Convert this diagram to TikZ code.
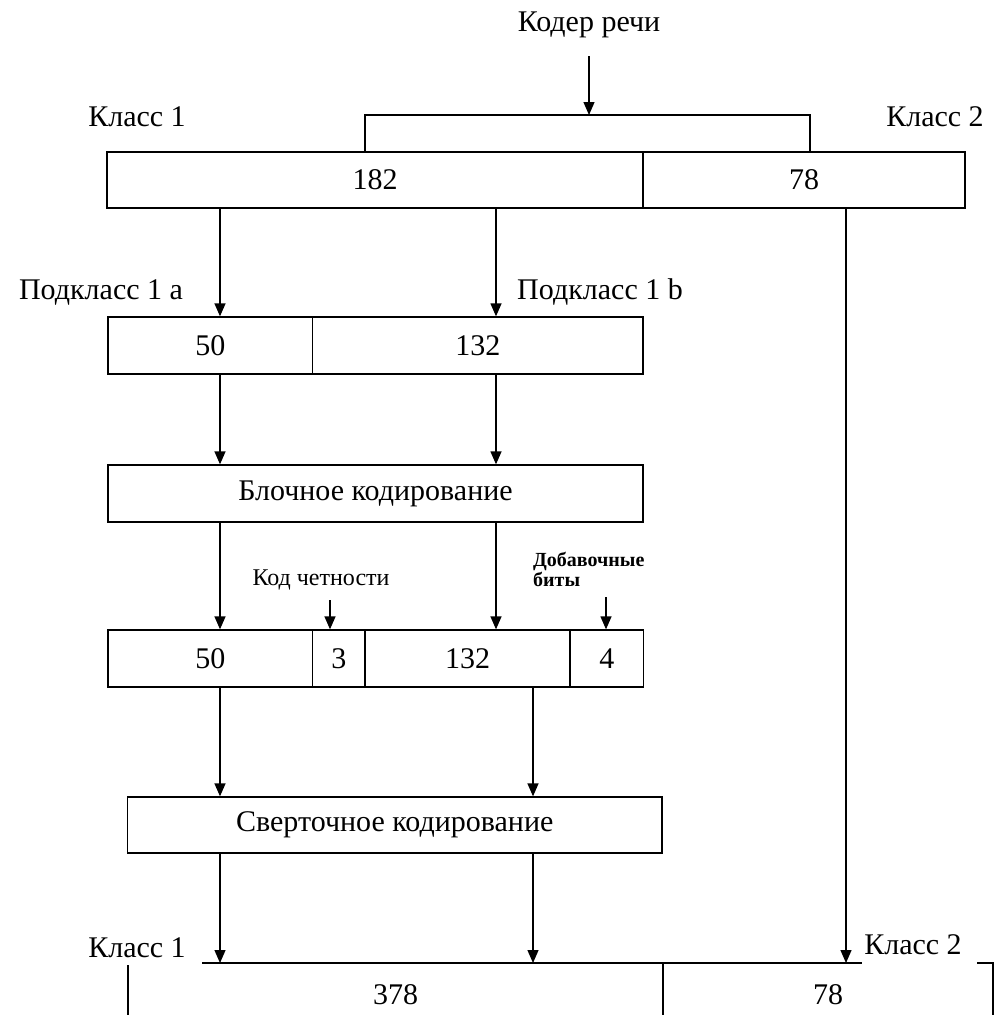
\documentclass[tikz,border=0pt]{standalone}
\usepackage{fontspec}
\setmainfont{Liberation Serif}
\usetikzlibrary{arrows.meta}
\begin{document}
\begin{tikzpicture}[x=1pt,y=-1pt,
  cell/.style={draw, line width=1.3pt, inner sep=0pt, font=\fontsize{30}{32}\selectfont},
  ghost/.style={inner sep=0pt, font=\fontsize{30}{32}\selectfont},
  lbl/.style={inner sep=0pt, font=\fontsize{30}{32}\selectfont},
  small/.style={inner sep=0pt, font=\fontsize{24}{24}\selectfont},
  smallb/.style={inner sep=0pt, align=left, font=\fontsize{20}{20}\selectfont\bfseries},
  ln/.style={line width=1.3pt},
  arr/.style={line width=1.3pt, -{Triangle[length=13pt,width=11pt]}}]
\useasboundingbox (0,0) rectangle (995,1015);
% labels
\node[lbl] (coder) at (589,25) {Кодер речи};
\node[lbl] (k1top) at (137,117) {Класс 1};
\node[lbl] (k2top) at (935,117) {Класс 2};
\node[lbl] (pa) at (101,292) {Подкласс 1 a};
\node[lbl] (pb) at (600,292) {Подкласс 1 b};
\node[small] (kod) at (321,580) {Код четности};
\node[smallb, anchor=west] (dob) at (533,569) {Добавочные\\биты};
\node[lbl] (k1bot) at (137,948) {Класс 1};
\node[lbl] (k2bot) at (913,945) {Класс 2};
% top box
\node[cell, minimum width=536pt, minimum height=56pt] (c182) at (375,180) {182};
\node[cell, minimum width=322pt, minimum height=56pt] (c78) at (804,180) {78};
% box 2
\node[cell, minimum width=204.5pt, minimum height=57pt] (s50) at (210.25,345.5) {50};
\node[cell, minimum width=330.5pt, minimum height=57pt] (s132) at (477.75,345.5) {132};
% block coding
\node[cell, minimum width=535pt, minimum height=57pt] (blk) at (375.5,493.5) {Блочное кодирование};
% box 4
\node[cell, minimum width=204.5pt, minimum height=57pt] (t50) at (210.25,658.5) {50};
\node[cell, minimum width=52.5pt, minimum height=57pt] (t3) at (338.75,658.5) {3};
\node[cell, minimum width=205pt, minimum height=57pt] (t132) at (467.5,658.5) {132};
\node[cell, minimum width=73.5pt, minimum height=57pt] (t4) at (606.75,658.5) {4};
% convolutional coding
\node[cell, minimum width=534.5pt, minimum height=56pt] (conv) at (394.75,825) {Сверточное кодирование};
% bottom box (partly open)
\node[ghost, minimum width=535pt, minimum height=64pt] (b378) at (395.5,995) {378};
\node[ghost, minimum width=330pt, minimum height=64pt] (b78) at (828,995) {78};
% columns / points
\coordinate (split) at (589,115);
\coordinate (brL) at (365,115);
\coordinate (brR) at (810,115);
\coordinate (colA) at (220,0);
\coordinate (colB) at (496,0);
\coordinate (colC) at (533,0);
\coordinate (colR) at (846,0);
\coordinate (pP) at (330,600);
\coordinate (pD) at (606,597);
\coordinate (bl1) at (202,963);
\coordinate (bl2) at (862,963);
\coordinate (br1) at (977,963);
\coordinate (brc) at (993,963);
\coordinate (brb) at (993,1015);
\coordinate (lv1) at (128,965);
\coordinate (lv2) at (128,1015);
\coordinate (dv1) at (663,963);
\coordinate (dv2) at (663,1015);
% bracket and input arrow
\draw[arr] ([yshift=-18pt]coder.south) -- (split);
\draw[ln] (c182.north -| brL) -- (brL) -- (brR) -- (c78.north -| brR);
% arrows
\draw[arr] (c182.south -| colA) -- (s50.north -| colA);
\draw[arr] (c182.south -| colB) -- (s132.north -| colB);
\draw[arr] (c78.south -| colR) -- (bl2 -| colR);
\draw[arr] (s50.south -| colA) -- (blk.north -| colA);
\draw[arr] (s132.south -| colB) -- (blk.north -| colB);
\draw[arr] (blk.south -| colA) -- (t50.north -| colA);
\draw[arr] (blk.south -| colB) -- (t132.north -| colB);
\draw[arr] (pP) -- (t3.north -| pP);
\draw[arr] (pD) -- (t4.north -| pD);
\draw[arr] (t50.south -| colA) -- (conv.north -| colA);
\draw[arr] (t132.south -| colC) -- (conv.north -| colC);
\draw[arr] (conv.south -| colA) -- (bl1 -| colA);
\draw[arr] (conv.south -| colC) -- (bl1 -| colC);
% bottom box borders
\draw[ln] (bl1) -- (bl2);
\draw[ln] (br1) -- (brc) -- (brb);
\draw[ln] (lv1) -- (lv2);
\draw[ln] (dv1) -- (dv2);
\end{tikzpicture}
\end{document}
